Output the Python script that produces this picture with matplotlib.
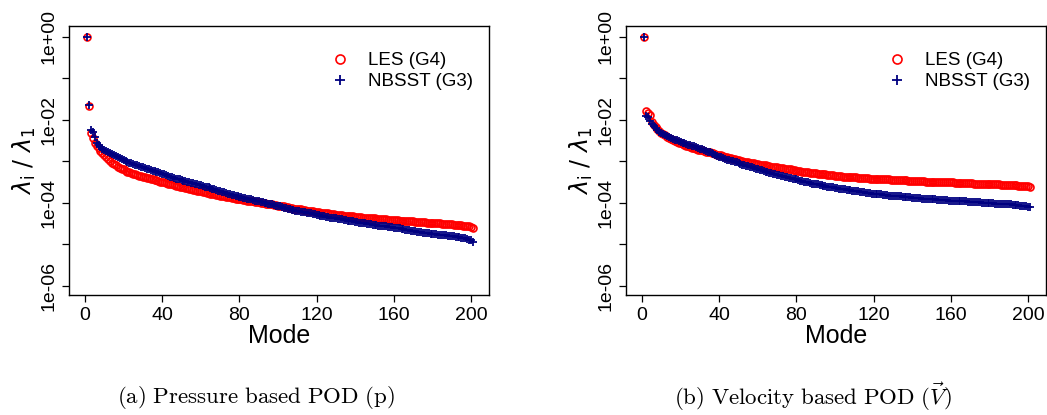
import numpy as np
import matplotlib
matplotlib.use("Agg")
import matplotlib.pyplot as plt

plt.rcParams["font.family"] = ["Liberation Sans", "DejaVu Sans"]

# eigenvalue ratios lambda_i / lambda_1 as log10 exponents, modes 1..201
modes = list(range(1, 202))

p_les_log = [
    0.00, -1.67, -2.33, -2.45, -2.55, -2.63, -2.69, -2.75, -2.80, -2.85,
    -2.90, -2.95, -3.00, -3.04, -3.07, -3.10, -3.13, -3.16, -3.18, -3.20,
    -3.23, -3.25, -3.27, -3.28, -3.30, -3.32, -3.33, -3.35, -3.36, -3.38,
    -3.39, -3.40, -3.41, -3.43, -3.44, -3.45, -3.46, -3.47, -3.49, -3.50,
    -3.51, -3.52, -3.54, -3.55, -3.56, -3.57, -3.59, -3.60, -3.61, -3.62,
    -3.63, -3.64, -3.65, -3.66, -3.68, -3.69, -3.70, -3.71, -3.72, -3.73,
    -3.74, -3.75, -3.76, -3.77, -3.78, -3.79, -3.80, -3.81, -3.82, -3.83,
    -3.84, -3.85, -3.86, -3.87, -3.87, -3.88, -3.89, -3.90, -3.91, -3.91,
    -3.92, -3.93, -3.94, -3.95, -3.95, -3.96, -3.97, -3.98, -3.98, -3.99,
    -4.00, -4.01, -4.01, -4.02, -4.03, -4.04, -4.04, -4.05, -4.06, -4.07,
    -4.07, -4.08, -4.09, -4.10, -4.11, -4.12, -4.13, -4.14, -4.14, -4.15,
    -4.16, -4.16, -4.17, -4.18, -4.19, -4.19, -4.20, -4.21, -4.22, -4.22,
    -4.23, -4.24, -4.24, -4.25, -4.26, -4.26, -4.27, -4.27, -4.28, -4.29,
    -4.29, -4.30, -4.30, -4.31, -4.31, -4.32, -4.32, -4.33, -4.33, -4.34,
    -4.34, -4.35, -4.35, -4.36, -4.36, -4.37, -4.37, -4.37, -4.38, -4.38,
    -4.39, -4.39, -4.39, -4.40, -4.40, -4.40, -4.41, -4.41, -4.41, -4.42,
    -4.42, -4.42, -4.43, -4.43, -4.44, -4.44, -4.44, -4.45, -4.45, -4.45,
    -4.46, -4.46, -4.46, -4.47, -4.47, -4.47, -4.48, -4.48, -4.48, -4.49,
    -4.49, -4.50, -4.50, -4.50, -4.51, -4.51, -4.51, -4.52, -4.52, -4.52,
    -4.53, -4.53, -4.53, -4.54, -4.54, -4.55, -4.55, -4.56, -4.57, -4.58,
    -4.60,
]

p_nbsst_log = [
    0.00, -1.65, -2.25, -2.30, -2.41, -2.55, -2.60, -2.65, -2.70, -2.74,
    -2.76, -2.79, -2.81, -2.83, -2.86, -2.88, -2.91, -2.93, -2.95, -2.98,
    -3.00, -3.02, -3.04, -3.05, -3.07, -3.09, -3.10, -3.12, -3.14, -3.15,
    -3.17, -3.18, -3.20, -3.21, -3.23, -3.24, -3.26, -3.27, -3.29, -3.31,
    -3.32, -3.34, -3.36, -3.37, -3.39, -3.40, -3.42, -3.43, -3.44, -3.46,
    -3.47, -3.48, -3.49, -3.51, -3.52, -3.53, -3.54, -3.56, -3.57, -3.58,
    -3.59, -3.61, -3.62, -3.63, -3.65, -3.66, -3.68, -3.69, -3.71, -3.72,
    -3.74, -3.75, -3.77, -3.78, -3.79, -3.81, -3.82, -3.83, -3.84, -3.86,
    -3.87, -3.88, -3.89, -3.90, -3.91, -3.92, -3.94, -3.95, -3.96, -3.97,
    -3.98, -3.99, -4.00, -4.01, -4.02, -4.03, -4.04, -4.05, -4.07, -4.08,
    -4.09, -4.10, -4.12, -4.13, -4.14, -4.15, -4.17, -4.18, -4.19, -4.20,
    -4.21, -4.22, -4.22, -4.23, -4.24, -4.25, -4.26, -4.27, -4.28, -4.29,
    -4.30, -4.31, -4.32, -4.33, -4.34, -4.35, -4.36, -4.36, -4.37, -4.38,
    -4.39, -4.40, -4.40, -4.41, -4.42, -4.43, -4.44, -4.44, -4.45, -4.46,
    -4.47, -4.48, -4.49, -4.49, -4.50, -4.51, -4.51, -4.52, -4.53, -4.53,
    -4.54, -4.55, -4.55, -4.56, -4.57, -4.57, -4.58, -4.59, -4.59, -4.60,
    -4.61, -4.62, -4.62, -4.63, -4.64, -4.65, -4.66, -4.67, -4.68, -4.68,
    -4.69, -4.70, -4.71, -4.71, -4.72, -4.73, -4.74, -4.74, -4.75, -4.75,
    -4.76, -4.76, -4.77, -4.77, -4.78, -4.79, -4.79, -4.80, -4.80, -4.81,
    -4.81, -4.82, -4.82, -4.83, -4.84, -4.85, -4.86, -4.87, -4.89, -4.91,
    -4.94,
]

v_les_log = [
    0.00, -1.78, -1.84, -1.89, -2.05, -2.12, -2.18, -2.23, -2.28, -2.32,
    -2.35, -2.38, -2.41, -2.43, -2.46, -2.48, -2.51, -2.53, -2.55, -2.57,
    -2.59, -2.61, -2.63, -2.64, -2.66, -2.68, -2.69, -2.70, -2.72, -2.73,
    -2.74, -2.76, -2.77, -2.78, -2.79, -2.80, -2.81, -2.83, -2.84, -2.85,
    -2.86, -2.88, -2.89, -2.90, -2.92, -2.93, -2.94, -2.95, -2.96, -2.97,
    -2.99, -3.00, -3.01, -3.02, -3.03, -3.04, -3.04, -3.05, -3.06, -3.07,
    -3.08, -3.09, -3.10, -3.10, -3.11, -3.12, -3.13, -3.13, -3.14, -3.15,
    -3.16, -3.17, -3.17, -3.18, -3.19, -3.20, -3.20, -3.21, -3.22, -3.23,
    -3.23, -3.24, -3.25, -3.25, -3.26, -3.27, -3.28, -3.28, -3.29, -3.29,
    -3.30, -3.31, -3.31, -3.32, -3.32, -3.33, -3.33, -3.34, -3.34, -3.35,
    -3.35, -3.36, -3.36, -3.37, -3.37, -3.37, -3.38, -3.38, -3.39, -3.39,
    -3.39, -3.40, -3.40, -3.40, -3.41, -3.41, -3.41, -3.42, -3.42, -3.42,
    -3.43, -3.43, -3.43, -3.43, -3.44, -3.44, -3.44, -3.44, -3.45, -3.45,
    -3.45, -3.45, -3.46, -3.46, -3.46, -3.46, -3.46, -3.47, -3.47, -3.47,
    -3.47, -3.48, -3.48, -3.48, -3.48, -3.48, -3.49, -3.49, -3.49, -3.49,
    -3.49, -3.50, -3.50, -3.50, -3.50, -3.50, -3.51, -3.51, -3.51, -3.51,
    -3.51, -3.52, -3.52, -3.52, -3.52, -3.52, -3.53, -3.53, -3.53, -3.53,
    -3.53, -3.54, -3.54, -3.54, -3.54, -3.55, -3.55, -3.55, -3.55, -3.55,
    -3.56, -3.56, -3.56, -3.56, -3.56, -3.57, -3.57, -3.57, -3.57, -3.57,
    -3.58, -3.58, -3.58, -3.58, -3.59, -3.59, -3.59, -3.59, -3.60, -3.60,
    -3.61,
]

v_nbsst_log = [
    0.00, -1.91, -1.94, -2.02, -2.10, -2.16, -2.20, -2.25, -2.29, -2.32,
    -2.35, -2.37, -2.40, -2.42, -2.44, -2.46, -2.48, -2.50, -2.52, -2.54,
    -2.55, -2.57, -2.58, -2.60, -2.61, -2.63, -2.64, -2.66, -2.68, -2.70,
    -2.71, -2.73, -2.75, -2.77, -2.79, -2.81, -2.83, -2.85, -2.87, -2.89,
    -2.91, -2.92, -2.94, -2.96, -2.97, -2.99, -3.00, -3.02, -3.03, -3.05,
    -3.06, -3.08, -3.09, -3.11, -3.12, -3.14, -3.15, -3.17, -3.18, -3.20,
    -3.21, -3.22, -3.24, -3.25, -3.26, -3.28, -3.29, -3.30, -3.32, -3.33,
    -3.34, -3.35, -3.36, -3.37, -3.39, -3.40, -3.41, -3.42, -3.43, -3.44,
    -3.45, -3.47, -3.48, -3.49, -3.50, -3.51, -3.53, -3.54, -3.55, -3.56,
    -3.56, -3.57, -3.58, -3.59, -3.60, -3.61, -3.62, -3.62, -3.63, -3.64,
    -3.65, -3.66, -3.66, -3.67, -3.68, -3.69, -3.69, -3.70, -3.71, -3.72,
    -3.72, -3.73, -3.74, -3.74, -3.75, -3.76, -3.76, -3.77, -3.78, -3.78,
    -3.79, -3.79, -3.80, -3.80, -3.81, -3.82, -3.82, -3.83, -3.83, -3.84,
    -3.84, -3.85, -3.85, -3.85, -3.86, -3.86, -3.87, -3.87, -3.87, -3.88,
    -3.88, -3.89, -3.89, -3.89, -3.90, -3.90, -3.91, -3.91, -3.91, -3.92,
    -3.92, -3.92, -3.93, -3.93, -3.93, -3.94, -3.94, -3.94, -3.95, -3.95,
    -3.95, -3.95, -3.96, -3.96, -3.96, -3.97, -3.97, -3.97, -3.98, -3.98,
    -3.98, -3.99, -3.99, -3.99, -3.99, -4.00, -4.00, -4.00, -4.01, -4.01,
    -4.01, -4.01, -4.02, -4.02, -4.02, -4.03, -4.03, -4.03, -4.04, -4.04,
    -4.04, -4.05, -4.05, -4.05, -4.06, -4.07, -4.07, -4.08, -4.09, -4.10,
    -4.11,
]

x_ticks = [0, 40, 80, 120, 160, 200]
y_ticks = [1e0, 1e-1, 1e-2, 1e-3, 1e-4, 1e-5, 1e-6]
y_ticklabels = ["1e+00", "", "1e-02", "", "1e-04", "", "1e-06"]
series_labels = ["LES (G4)", "NBSST (G3)"]
captions = [r"$\mathrm{(a)\ Pressure\ based\ POD\ (p)}$",
            r"$\mathrm{(b)\ Velocity\ based\ POD\ (}\vec{V}\mathrm{)}$"]

W, H = 1047, 415
fig = plt.figure(figsize=(W / 100, H / 100), dpi=100)

panels = [
    (69, p_les_log, p_nbsst_log, 256),
    (626, v_les_log, v_nbsst_log, 813),
]

for i, (left_px, les_log, nb_log, cap_x) in enumerate(panels):
    ax = fig.add_axes([left_px / W, 1 - 295 / H, 420 / W, 269 / H])
    ax.set_yscale("log")
    ax.plot(modes, 10.0 ** np.array(les_log), "o", ls="none", mfc="none",
            mec="red", ms=5, mew=1.2, label=series_labels[0])
    ax.plot(modes, 10.0 ** np.array(nb_log), "+", ls="none", color="navy",
            ms=6, mew=1.3, label=series_labels[1])

    ax.set_xlim(-8.3, 209.3)
    ax.set_ylim(10 ** -6.224, 10 ** 0.257)
    ax.set_xticks(x_ticks)
    ax.set_yticks(y_ticks)
    ax.set_yticklabels(y_ticklabels, rotation=90, va="center")
    ax.minorticks_off()
    ax.tick_params(axis="both", direction="out", length=5, width=0.9,
                   labelsize=14, color="black")
    ax.tick_params(axis="y", pad=3)
    for s in ax.spines.values():
        s.set_linewidth(1.0)

    ax.set_xlabel("Mode", fontsize=18, labelpad=0)
    ax.set_ylabel(r"$\lambda_{\mathrm{i}}\ /\ \lambda_{1}$", fontsize=17,
                  labelpad=2, math_fontfamily="dejavusans")

    ax.legend(loc="upper left", bbox_to_anchor=(0.6, 0.93),
              frameon=False, fontsize=13.5, handletextpad=0.9,
              labelspacing=0.2, borderaxespad=0, handlelength=1.2,
              markerscale=1.3)

    fig.text(cap_x / W, 1 - 397 / H, captions[i], ha="center", va="center",
             fontsize=16.5, math_fontfamily="cm")

fig.savefig("out.png", dpi=100)
